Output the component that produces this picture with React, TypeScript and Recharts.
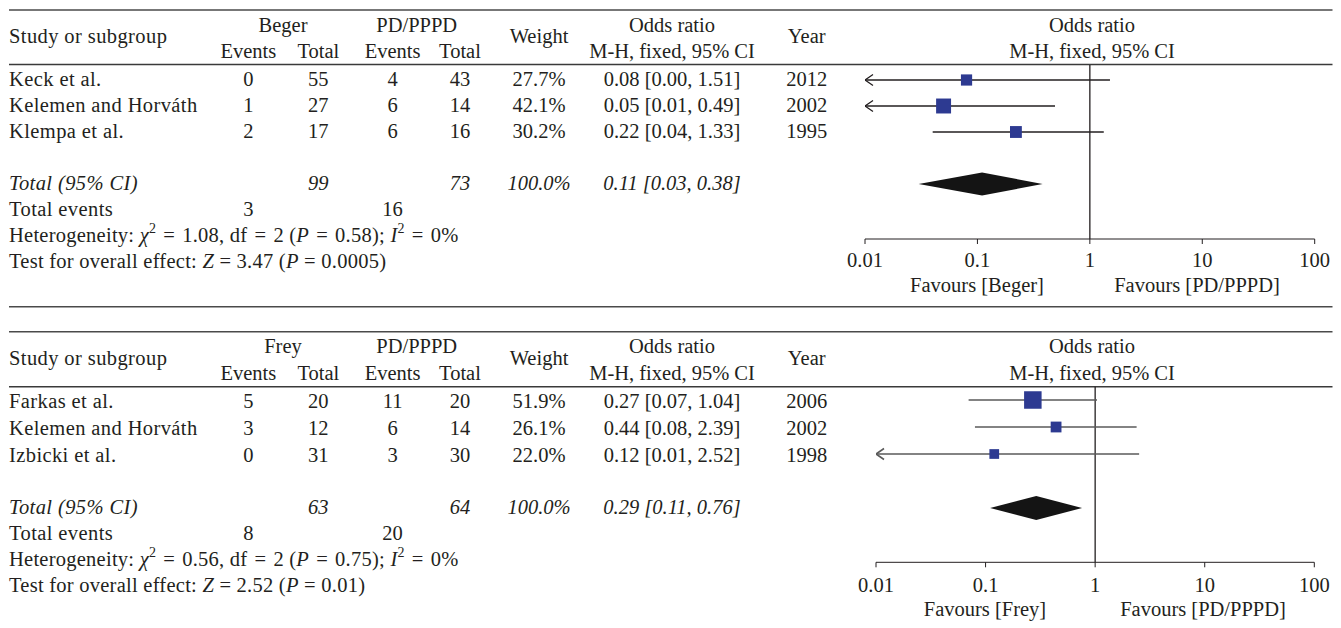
import React from 'react';
import { ComposedChart, XAxis, YAxis, Line, Scatter, Area, ReferenceLine } from 'recharts';

const FONT = '"Liberation Serif", "Times New Roman", serif';
const TXT = '#231f20';
const FS = 20.5;
const LS = 0.4;
const LS_STATS = 0.25;
const EQ = '\u2004=\u2004';

// ---------- Panel 1 (Beger vs PD/PPPD) ----------
const studies1 = ['Keck et al.', 'Kelemen and Horváth', 'Klempa et al.'];
const expEvents1 = [0, 1, 2];
const expTotal1 = [55, 27, 17];
const ctrlEvents1 = [4, 6, 6];
const ctrlTotal1 = [43, 14, 16];
const weights1 = [27.7, 42.1, 30.2];
const or1 = [0.08, 0.05, 0.22];
const lo1 = [0.0, 0.01, 0.04];
const hi1 = [1.51, 0.49, 1.33];
const years1 = [2012, 2002, 1995];
const totalN1 = [99, 73];
const totalEvents1 = [3, 16];
const pooled1 = [0.11, 0.03, 0.38];
const het1 = ['1.08', '2', '0.58', '0%'];
const ztest1 = ['3.47', '0.0005'];
const groups1 = ['Beger', 'PD/PPPD'];
const favours1 = ['Favours [Beger]', 'Favours [PD/PPPD]'];

// ---------- Panel 2 (Frey vs PD/PPPD) ----------
const studies2 = ['Farkas et al.', 'Kelemen and Horváth', 'Izbicki et al.'];
const expEvents2 = [5, 3, 0];
const expTotal2 = [20, 12, 31];
const ctrlEvents2 = [11, 6, 3];
const ctrlTotal2 = [20, 14, 30];
const weights2 = [51.9, 26.1, 22.0];
const or2 = [0.27, 0.44, 0.12];
const lo2 = [0.07, 0.08, 0.01];
const hi2 = [1.04, 2.39, 2.52];
const years2 = [2006, 2002, 1998];
const totalN2 = [63, 64];
const totalEvents2 = [8, 20];
const pooled2 = [0.29, 0.11, 0.76];
const het2 = ['0.56', '2', '0.75', '0%'];
const ztest2 = ['2.52', '0.01'];
const groups2 = ['Frey', 'PD/PPPD'];
const favours2 = ['Favours [Frey]', 'Favours [PD/PPPD]'];

const axisTicks = [0.01, 0.1, 1, 10, 100];
const TOTAL_ROW = 4;
const AXIS_MIN = 0.01;

const f2 = (v: number) => v.toFixed(2);
const ciText = (o: number, l: number, h: number) => `${f2(o)} [${f2(l)}, ${f2(h)}]`;

const arrowDot = (color: string, width: number) => (props: any) => {
  const { cx, cy, payload, index } = props;
  if (!payload || !payload.arrow || cx == null) return <g key={`d${index}`} />;
  return (
    <path
      key={`d${index}`}
      d={`M${cx + 8},${cy - 5.5} L${cx},${cy} L${cx + 8},${cy + 5.5}`}
      fill="none"
      stroke={color}
      strokeWidth={width}
    />
  );
};

const squareShape = (props: any) => {
  const { cx, cy, payload } = props;
  const s = 4 + 0.26 * payload.w;
  return <rect x={cx - s / 2} y={cy - s / 2} width={s} height={s} fill="#2d3a91" />;
};

type ForestProps = {
  or: number[];
  lo: number[];
  hi: number[];
  weights: number[];
  pooled: number[];
  margin: { top: number; right: number; bottom: number; left: number };
  yDomain: [number, number];
  ciColor: string;
  ciWidth: number;
  tickMargin: number;
};

function Forest({ or, lo, hi, weights, pooled, margin, yDomain, ciColor, ciWidth, tickMargin }: ForestProps) {
  const squares = or.map((v, i) => ({ x: v, y: i, w: weights[i] }));
  const diamond = [
    { x: pooled[1], band: [TOTAL_ROW, TOTAL_ROW] },
    { x: pooled[0], band: [TOTAL_ROW - 0.44, TOTAL_ROW + 0.44] },
    { x: pooled[2], band: [TOTAL_ROW, TOTAL_ROW] },
  ];
  return (
    <ComposedChart width={1341} height={628} margin={margin}>
      <XAxis
        type="number"
        dataKey="x"
        scale="log"
        domain={[AXIS_MIN, 100]}
        ticks={axisTicks}
        interval={0}
        allowDataOverflow
        tickFormatter={(v: number) => String(v)}
        height={30}
        tick={{ fill: TXT, fontSize: FS, fontFamily: FONT }}
        stroke={TXT}
        tickSize={5}
        tickMargin={tickMargin}
      />
      <YAxis type="number" dataKey="y" domain={yDomain} reversed hide allowDataOverflow />
      <ReferenceLine x={1} stroke={TXT} strokeWidth={1.3} />
      {or.map((_, i) => (
        <Line
          key={`ci${i}`}
          data={[
            { x: Math.max(lo[i], AXIS_MIN), y: i, arrow: lo[i] <= AXIS_MIN },
            { x: hi[i], y: i, arrow: false },
          ]}
          dataKey="y"
          type="linear"
          stroke={ciColor}
          strokeWidth={ciWidth}
          dot={arrowDot(ciColor, ciWidth)}
          activeDot={false}
          isAnimationActive={false}
          legendType="none"
        />
      ))}
      <Area
        data={diamond}
        dataKey="band"
        type="linear"
        stroke="none"
        fill="#141414"
        fillOpacity={1}
        dot={false}
        activeDot={false}
        isAnimationActive={false}
      />
      <Scatter data={squares} dataKey="y" shape={squareShape} isAnimationActive={false} />
    </ComposedChart>
  );
}

type Layout = {
  ruleTop: number;
  ruleHead: number;
  ruleBottom?: number;
  groupY: number;
  midY: number;
  subY: number;
  rows: number[];
  totalY: number;
  eventsY: number;
  hetY: number;
  testY: number;
  favY: number;
  favX: [number, number];
};

const COL = {
  ev1: 248.4,
  tot1: 318.3,
  ev2: 392.6,
  tot2: 460,
  weight: 539,
  or: 672,
  year: 806.7,
  g1: 283,
  g2: 416.7,
  right: 1092,
  left: 9,
};

type TextProps = {
  L: Layout;
  studies: string[];
  expEvents: number[];
  expTotal: number[];
  ctrlEvents: number[];
  ctrlTotal: number[];
  weights: number[];
  or: number[];
  lo: number[];
  hi: number[];
  years: number[];
  totalN: number[];
  totalEvents: number[];
  pooled: number[];
  het: string[];
  ztest: string[];
  groups: string[];
  favours: string[];
};

function PanelText(p: TextProps) {
  const { L } = p;
  const c = { textAnchor: 'middle' as const };
  const it = { fontStyle: 'italic' as const };
  const lf = { x: COL.left, letterSpacing: LS };
  const ls = { x: COL.left, letterSpacing: LS_STATS };
  return (
    <g fill={TXT} fontFamily={FONT} fontSize={FS}>
      <line x1={9} x2={1332.5} y1={L.ruleTop} y2={L.ruleTop} stroke="#4a4a4a" strokeWidth={1.6} />
      <line x1={9} x2={1332.5} y1={L.ruleHead} y2={L.ruleHead} stroke="#3a3a3a" strokeWidth={1.5} />
      {L.ruleBottom != null && (
        <line x1={9} x2={1332.5} y1={L.ruleBottom} y2={L.ruleBottom} stroke="#4a4a4a" strokeWidth={1.6} />
      )}
      <text {...lf} y={L.midY}>Study or subgroup</text>
      <text x={COL.g1} y={L.groupY} {...c}>{p.groups[0]}</text>
      <text x={COL.g2} y={L.groupY} {...c}>{p.groups[1]}</text>
      <text x={COL.ev1} y={L.subY} {...c}>Events</text>
      <text x={COL.tot1} y={L.subY} {...c}>Total</text>
      <text x={COL.ev2} y={L.subY} {...c}>Events</text>
      <text x={COL.tot2} y={L.subY} {...c}>Total</text>
      <text x={COL.weight} y={L.midY} {...c}>Weight</text>
      <text x={COL.or} y={L.groupY} {...c}>Odds ratio</text>
      <text x={COL.or} y={L.subY} {...c}>M-H, fixed, 95% CI</text>
      <text x={COL.year} y={L.midY} {...c}>Year</text>
      <text x={COL.right} y={L.groupY} {...c}>Odds ratio</text>
      <text x={COL.right} y={L.subY} {...c}>M-H, fixed, 95% CI</text>

      {p.studies.map((s, i) => (
        <g key={s + i}>
          <text {...lf} y={L.rows[i]}>{s}</text>
          <text x={COL.ev1} y={L.rows[i]} {...c}>{p.expEvents[i]}</text>
          <text x={COL.tot1} y={L.rows[i]} {...c}>{p.expTotal[i]}</text>
          <text x={COL.ev2} y={L.rows[i]} {...c}>{p.ctrlEvents[i]}</text>
          <text x={COL.tot2} y={L.rows[i]} {...c}>{p.ctrlTotal[i]}</text>
          <text x={COL.weight} y={L.rows[i]} {...c}>{p.weights[i].toFixed(1)}%</text>
          <text x={COL.or} y={L.rows[i]} {...c}>{ciText(p.or[i], p.lo[i], p.hi[i])}</text>
          <text x={COL.year} y={L.rows[i]} {...c}>{p.years[i]}</text>
        </g>
      ))}

      <text {...lf} y={L.totalY} {...it}>Total (95% CI)</text>
      <text x={COL.tot1} y={L.totalY} {...c} {...it}>{p.totalN[0]}</text>
      <text x={COL.tot2} y={L.totalY} {...c} {...it}>{p.totalN[1]}</text>
      <text x={COL.weight} y={L.totalY} {...c} {...it}>100.0%</text>
      <text x={COL.or} y={L.totalY} {...c} {...it}>{ciText(p.pooled[0], p.pooled[1], p.pooled[2])}</text>

      <text {...lf} y={L.eventsY}>Total events</text>
      <text x={COL.ev1} y={L.eventsY} {...c}>{p.totalEvents[0]}</text>
      <text x={COL.ev2} y={L.eventsY} {...c}>{p.totalEvents[1]}</text>

      <text {...ls} y={L.hetY}>
        Heterogeneity: <tspan fontStyle="italic">χ</tspan>
        <tspan dy={-9} fontSize={14}>2</tspan>
        <tspan dy={9}>{`${EQ}${p.het[0]}, df${EQ}${p.het[1]} (`}</tspan>
        <tspan fontStyle="italic">P</tspan>
        <tspan>{`${EQ}${p.het[2]}); `}</tspan>
        <tspan fontStyle="italic">I</tspan>
        <tspan dy={-9} fontSize={14}>2</tspan>
        <tspan dy={9}>{`${EQ}${p.het[3]}`}</tspan>
      </text>
      <text {...ls} y={L.testY}>
        Test for overall effect: <tspan fontStyle="italic">Z</tspan>
        <tspan>{` = ${p.ztest[0]} (`}</tspan>
        <tspan fontStyle="italic">P</tspan>
        <tspan>{` = ${p.ztest[1]})`}</tspan>
      </text>

      <text x={L.favX[0]} y={L.favY} {...c}>{p.favours[0]}</text>
      <text x={L.favX[1]} y={L.favY} {...c}>{p.favours[1]}</text>
    </g>
  );
}

const layout1: Layout = {
  ruleTop: 10,
  ruleHead: 64.5,
  ruleBottom: 306.7,
  groupY: 31.7,
  midY: 43,
  subY: 58.3,
  rows: [86, 112, 138],
  totalY: 190,
  eventsY: 216,
  hetY: 242,
  testY: 268,
  favY: 292,
  favX: [977, 1197],
};

const layout2: Layout = {
  ruleTop: 331.7,
  ruleHead: 386.7,
  groupY: 353,
  midY: 364.5,
  subY: 380,
  rows: [407.5, 434.5, 461.5],
  totalY: 514,
  eventsY: 539.6,
  hetY: 566,
  testY: 591.5,
  favY: 616,
  favX: [985, 1203],
};

export default function App() {
  return (
    <div
      style={{
        position: 'absolute',
        left: 0,
        top: 0,
        width: 1341,
        height: 628,
        background: '#fff',
        overflow: 'hidden',
      }}
    >
      <svg width={1341} height={628} style={{ position: 'absolute', left: 0, top: 0 }}>
        <PanelText
          L={layout1}
          studies={studies1}
          expEvents={expEvents1}
          expTotal={expTotal1}
          ctrlEvents={ctrlEvents1}
          ctrlTotal={ctrlTotal1}
          weights={weights1}
          or={or1}
          lo={lo1}
          hi={hi1}
          years={years1}
          totalN={totalN1}
          totalEvents={totalEvents1}
          pooled={pooled1}
          het={het1}
          ztest={ztest1}
          groups={groups1}
          favours={favours1}
        />
        <PanelText
          L={layout2}
          studies={studies2}
          expEvents={expEvents2}
          expTotal={expTotal2}
          ctrlEvents={ctrlEvents2}
          ctrlTotal={ctrlTotal2}
          weights={weights2}
          or={or2}
          lo={lo2}
          hi={hi2}
          years={years2}
          totalN={totalN2}
          totalEvents={totalEvents2}
          pooled={pooled2}
          het={het2}
          ztest={ztest2}
          groups={groups2}
          favours={favours2}
        />
      </svg>
      <div style={{ position: 'absolute', left: 0, top: 0 }}>
        <Forest
          or={or1}
          lo={lo1}
          hi={hi1}
          weights={weights1}
          pooled={pooled1}
          margin={{ top: 65, right: 26.3, bottom: 628 - 239 - 30, left: 865 }}
          yDomain={[-15 / 26, 174 / 26 - 15 / 26]}
          ciColor="#231f20"
          ciWidth={1.3}
          tickMargin={8}
        />
      </div>
      <div style={{ position: 'absolute', left: 0, top: 0 }}>
        <Forest
          or={or2}
          lo={lo2}
          hi={hi2}
          weights={weights2}
          pooled={pooled2}
          margin={{ top: 386.7, right: 26.7, bottom: 628 - 562.3 - 30, left: 876 }}
          yDomain={[-13.3 / 27, 162.3 / 27]}
          ciColor="#5a5a5a"
          ciWidth={1.6}
          tickMargin={10.5}
        />
      </div>
    </div>
  );
}
